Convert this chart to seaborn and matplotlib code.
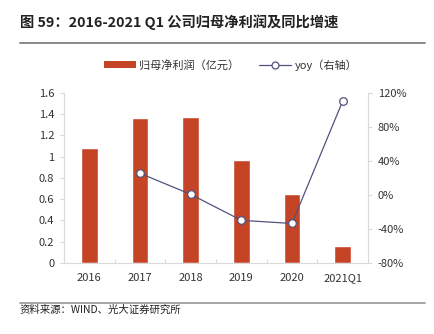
import matplotlib
matplotlib.use("Agg")
import matplotlib.pyplot as plt
from matplotlib.lines import Line2D
from matplotlib.patches import Patch
from matplotlib.ticker import FuncFormatter, FixedLocator
import seaborn as sns
import pandas as pd
import numpy as np

categories = ["2016", "2017", "2018", "2019", "2020", "2021Q1"]
profit = [1.08, 1.36, 1.37, 0.97, 0.65, 0.16]
yoy = [np.nan, 25.5, 0.8, -29.8, -33.5, 110.5]
left_ticks = [0, 0.2, 0.4, 0.6, 0.8, 1, 1.2, 1.4, 1.6]
right_ticks = [-80, -40, 0, 40, 80, 120]

title = "图 59：2016-2021 Q1 公司归母净利润及同比增速"
source = "资料来源：WIND、光大证券研究所"
bar_label = "归母净利润（亿元）"
line_label = "yoy（右轴）"

sns.set_theme(style="white")
plt.rcParams['font.family'] = ['Noto Sans CJK SC', 'DejaVu Sans']
plt.rcParams['axes.unicode_minus'] = False

bar_color = "#C64426"
line_color = "#52527F"
grid_gray = "#D9D9D9"
text_color = "#333333"

df = pd.DataFrame({"cat": categories, "pos": range(len(categories)),
                   "profit": profit, "yoy": yoy})

fig = plt.figure(figsize=(4.35, 3.34), dpi=100)
ax = fig.add_axes([0.147, 0.2126, 0.699, 0.509])

sns.barplot(data=df, x="pos", y="profit", color=bar_color, width=0.33,
            saturation=1, ax=ax, native_scale=True)
ax.set_xlim(-0.5, len(categories) - 0.5)
ax.set_ylim(0, 1.6)
ax.set_yticks(left_ticks)
ax.yaxis.set_major_formatter(FuncFormatter(lambda v, p: f"{v:g}"))
ax.set_xticks(range(len(categories)))
ax.set_xticklabels(categories)
ax.xaxis.set_minor_locator(FixedLocator(np.arange(0.5, len(categories) - 0.5, 1)))
ax.set_xlabel("")
ax.set_ylabel("")

ax2 = ax.twinx()
sns.lineplot(data=df.dropna(), x="pos", y="yoy", color=line_color, lw=0.9,
             marker="o", markersize=5.5, markerfacecolor="white",
             markeredgecolor=line_color, markeredgewidth=0.9, ax=ax2)
ax2.set_ylim(-80, 120)
ax2.set_yticks(right_ticks)
ax2.yaxis.set_major_formatter(FuncFormatter(lambda v, p: f"{v:.0f}%"))
ax2.set_ylabel("")
ax2.set_xlabel("")
ax2.set_xlim(-0.5, len(categories) - 0.5)

for a in (ax, ax2):
    a.spines["top"].set_visible(False)
    for s in ["left", "right", "bottom"]:
        a.spines[s].set_color(grid_gray)
        a.spines[s].set_linewidth(0.8)
ax.spines["right"].set_visible(False)
ax2.spines["left"].set_visible(False)
ax2.spines["bottom"].set_visible(False)

ax.tick_params(axis="y", which="major", length=3, width=0.8, color=grid_gray,
               labelsize=8, labelcolor=text_color, pad=4, left=True)
ax.tick_params(axis="x", which="major", length=0, labelsize=8,
               labelcolor=text_color, pad=7)
ax.tick_params(axis="x", which="minor", length=3, width=0.8, color=grid_gray,
               direction="in", bottom=True)
ax2.tick_params(axis="y", length=3, width=0.8, color=grid_gray, labelsize=8,
                labelcolor=text_color, pad=4, right=True)

handles = [Patch(facecolor=bar_color, edgecolor="none"),
           Line2D([0], [0], color=line_color, lw=0.9, marker="o", markersize=5,
                  markerfacecolor="white", markeredgecolor=line_color,
                  markeredgewidth=0.9)]
fig.legend(handles, [bar_label, line_label], loc="center", ncol=2,
           bbox_to_anchor=(0.53, 0.805), frameon=False, fontsize=8,
           handlelength=2.9, handleheight=0.6, columnspacing=1.8,
           handletextpad=0.3, labelcolor=text_color)

fig.text(0.046, 0.935, title, fontsize=10.3, fontweight="bold",
         color="#222222", ha="left", va="center")
fig.add_artist(Line2D([0.046, 0.977], [0.871, 0.871], color="#7F7F7F", lw=1.3,
                      transform=fig.transFigure))
fig.add_artist(Line2D([0.046, 0.977], [0.093, 0.093], color="#9F9F9F", lw=1.3,
                      transform=fig.transFigure))
fig.text(0.046, 0.072, source, fontsize=7.5, color="#222222", ha="left", va="center")

fig.savefig("out.png", dpi=100)
